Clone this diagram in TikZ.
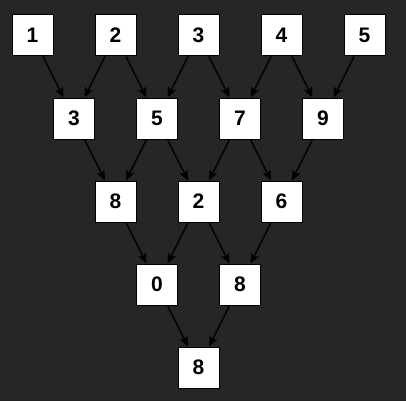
\documentclass[tikz,border=0pt]{standalone}
\usepackage{fontspec}
\setmainfont{Liberation Sans}
\usetikzlibrary{arrows.meta}
\definecolor{bg}{RGB}{38,38,38}
\begin{document}
\begin{tikzpicture}[x=1pt,y=-1pt,
  numbox/.style={draw=black,line width=1pt,fill=white,minimum size=41pt,inner sep=0pt,font=\fontsize{21}{25}\selectfont\bfseries},
  conn/.style={-{Stealth[length=10pt,width=8.5pt,inset=2pt]},line width=1.4pt,black}]
\fill[bg] (0,0) rectangle (406,401);
\useasboundingbox (0,0) rectangle (406,401);
% row 1
\node[numbox] (a1) at (32.5,35.5) {1};
\node[numbox] (a2) at (115.5,35.5) {2};
\node[numbox] (a3) at (198.5,35.5) {3};
\node[numbox] (a4) at (281.5,35.5) {4};
\node[numbox] (a5) at (364.5,35.5) {5};
% row 2
\node[numbox] (b1) at (74,118.5) {3};
\node[numbox] (b2) at (157,118.5) {5};
\node[numbox] (b3) at (240,118.5) {7};
\node[numbox] (b4) at (323,118.5) {9};
% row 3
\node[numbox] (c1) at (115.5,201.5) {8};
\node[numbox] (c2) at (198.5,201.5) {2};
\node[numbox] (c3) at (281.5,201.5) {6};
% row 4
\node[numbox] (d1) at (157,284.5) {0};
\node[numbox] (d2) at (240,284.5) {8};
% row 5
\node[numbox] (e1) at (198.5,367.5) {8};
% connectors
\draw[conn] (a1) -- (b1);
\draw[conn] (a2) -- (b1);
\draw[conn] (a2) -- (b2);
\draw[conn] (a3) -- (b2);
\draw[conn] (a3) -- (b3);
\draw[conn] (a4) -- (b3);
\draw[conn] (a4) -- (b4);
\draw[conn] (a5) -- (b4);
\draw[conn] (b1) -- (c1);
\draw[conn] (b2) -- (c1);
\draw[conn] (b2) -- (c2);
\draw[conn] (b3) -- (c2);
\draw[conn] (b3) -- (c3);
\draw[conn] (b4) -- (c3);
\draw[conn] (c1) -- (d1);
\draw[conn] (c2) -- (d1);
\draw[conn] (c2) -- (d2);
\draw[conn] (c3) -- (d2);
\draw[conn] (d1) -- (e1);
\draw[conn] (d2) -- (e1);
\end{tikzpicture}
\end{document}
